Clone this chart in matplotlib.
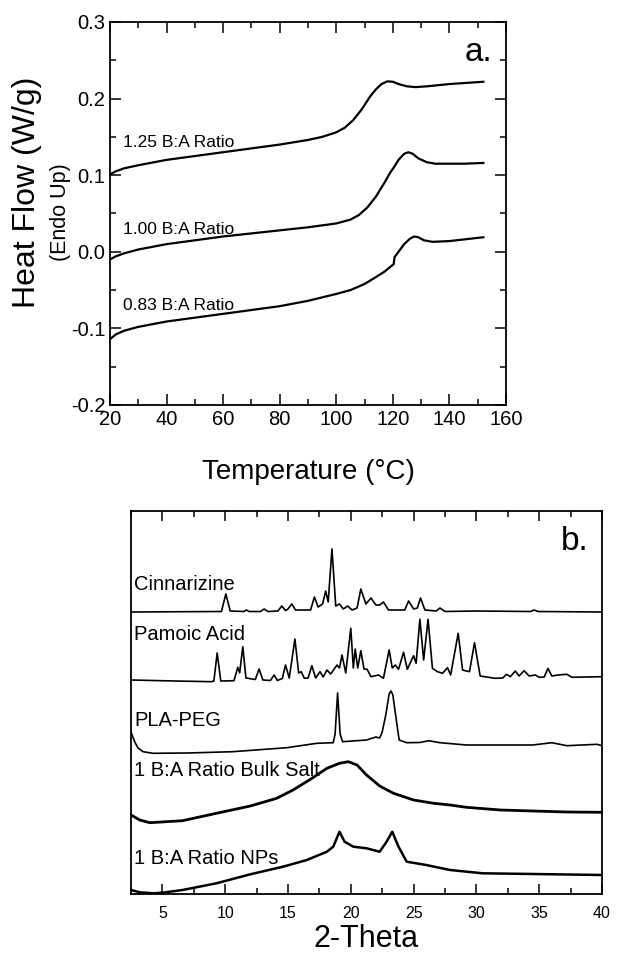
import matplotlib
matplotlib.use("Agg")
import matplotlib.pyplot as plt
from matplotlib.ticker import MultipleLocator

plt.rcParams['font.family'] = ['Liberation Sans', 'DejaVu Sans']

# --- DSC (panel a) ---
temp_125 = [20, 22, 25, 30, 40, 50, 60, 70, 80, 90, 95, 100, 103, 106, 109,
            112, 114, 116, 118, 120, 122, 125, 128, 132, 140, 152]
hf_125 = [0.101, 0.105, 0.109, 0.113, 0.120, 0.125, 0.130, 0.135, 0.140,
          0.146, 0.150, 0.156, 0.162, 0.172, 0.186, 0.203, 0.212, 0.219,
          0.2225, 0.222, 0.219, 0.216, 0.215, 0.216, 0.219, 0.222]

temp_100 = [20, 22, 25, 30, 40, 50, 60, 70, 80, 90, 100, 105, 108, 111, 114,
            117, 119, 120.5, 122, 124, 125.5, 127, 129, 132, 135, 145, 152]
hf_100 = [-0.010, -0.006, -0.002, 0.003, 0.010, 0.015, 0.020, 0.024, 0.028,
          0.032, 0.037, 0.042, 0.048, 0.058, 0.072, 0.090, 0.103, 0.111,
          0.120, 0.128, 0.130, 0.128, 0.122, 0.117, 0.115, 0.115, 0.116]

temp_083 = [20, 22, 25, 30, 40, 50, 60, 70, 80, 90, 100, 105, 110, 114, 117,
            119, 120.3, 120.6, 122, 124, 126, 127.5, 129, 131, 134, 140, 152]
hf_083 = [-0.114, -0.108, -0.103, -0.098, -0.091, -0.086, -0.081, -0.076,
          -0.071, -0.064, -0.055, -0.050, -0.042, -0.033, -0.026, -0.020,
          -0.016, -0.007, 0.000, 0.010, 0.017, 0.020, 0.019, 0.015, 0.013,
          0.014, 0.019]

dsc_labels = ["1.25 B:A Ratio", "1.00 B:A Ratio", "0.83 B:A Ratio"]
dsc_label_y = [0.143, 0.029, -0.070]

# --- XRD (panel b), (2-theta, intensity a.u.) ---
cinnarizine = [(2.5, 282), (9.7, 282.5), (10.05, 300), (10.4, 283),
               (11.5, 282.5), (11.7, 284), (11.9, 282.5), (12.8, 282.5),
               (13.1, 285), (13.4, 282.5), (14.2, 283), (14.5, 288),
               (14.8, 283.5), (15.0, 285), (15.3, 290), (15.6, 284),
               (16.8, 284), (17.1, 297), (17.4, 287), (17.75, 290),
               (18.0, 303), (18.2, 292), (18.5, 345), (18.8, 288),
               (19.1, 290), (19.4, 285), (19.75, 288), (20.1, 284),
               (20.5, 286), (20.8, 305), (21.2, 290), (21.6, 296),
               (22.0, 289), (22.3, 289), (22.6, 292), (23.0, 284),
               (24.3, 284), (24.6, 293), (25.0, 285), (25.3, 286),
               (25.55, 296), (25.9, 284), (26.8, 283), (27.1, 286),
               (27.5, 282.5), (30.0, 283), (34.3, 282.5), (34.6, 284),
               (34.9, 282.5), (40.0, 282)]

pamoic_acid = [(2.5, 214), (6.0, 213), (8.9, 212.3), (9.1, 213), (9.36, 241),
               (9.65, 213), (10.7, 213.3), (11.0, 226.7), (11.15, 221),
               (11.4, 247.3), (11.65, 216), (12.4, 214.5), (12.7, 225),
               (13.0, 214), (13.6, 213.5), (13.9, 219), (14.15, 213.5),
               (14.55, 215.5), (14.8, 229), (15.1, 216), (15.55, 255),
               (15.85, 221), (16.05, 222.3), (16.3, 215.7), (16.6, 216),
               (16.9, 228.3), (17.2, 216), (17.55, 222.3), (17.8, 217),
               (18.1, 224), (18.4, 220), (18.9, 229), (19.1, 226),
               (19.3, 239), (19.6, 221), (20.0, 265.7), (20.2, 226),
               (20.35, 245), (20.55, 226), (20.8, 243.3), (21.05, 225),
               (21.3, 224.7), (21.6, 217.3), (22.2, 219), (22.6, 215.7),
               (23.05, 244), (23.3, 226), (23.55, 229), (23.8, 224.7),
               (24.2, 241.7), (24.5, 224.7), (25.0, 238.3), (25.2, 230.7),
               (25.5, 274.7), (25.8, 234), (26.15, 274.7), (26.5, 225.7),
               (26.9, 222.3), (27.3, 220.7), (27.7, 226.3), (27.95, 219),
               (28.55, 260.7), (28.9, 224), (29.2, 223), (29.45, 222.3),
               (29.85, 251.3), (30.3, 218), (31.5, 215.7), (32.1, 216),
               (32.4, 219.7), (32.7, 217.3), (33.1, 223), (33.4, 218),
               (33.8, 223.3), (34.2, 218), (34.7, 219), (35.0, 216.7),
               (35.4, 217), (35.7, 225.7), (36.0, 218), (36.5, 219),
               (37.2, 219.7), (37.6, 216.7), (40.0, 217.3)]

pla_peg = [(2.5, 162), (2.8, 152), (3.06, 146), (3.46, 142.3), (4.26, 140.7),
           (7.0, 141), (10.6, 142.3), (14.9, 146.3), (17.3, 150.7),
           (18.6, 151.3), (18.75, 160), (18.95, 201), (19.15, 160),
           (19.35, 152.3), (21.25, 154), (22.0, 157), (22.3, 156),
           (22.5, 162), (22.8, 180), (23.05, 200), (23.2, 203),
           (23.35, 199), (23.6, 176), (23.85, 154), (24.45, 151.3),
           (25.5, 151.5), (26.2, 153.3), (27.1, 151.3), (29.2, 149),
           (34.5, 149), (36.0, 151.3), (37.2, 148.3), (39.6, 149.7),
           (40.0, 148.3)]

bulk_salt = [(2.5, 79), (3.2, 74), (4.0, 71.3), (6.6, 73.3), (9.3, 80.7),
             (12.0, 88), (14.1, 95.7), (15.4, 104), (16.7, 114),
             (18.1, 125.7), (19.1, 130.7), (19.8, 132.3), (20.5, 129),
             (21.25, 119), (22.3, 108), (23.4, 100.7), (25.0, 94),
             (26.6, 90.7), (27.9, 89), (29.2, 86.7), (31.9, 84), (34.5, 83),
             (37.2, 82), (40.0, 81.7)]

nps = [(2.5, 4), (3.2, 1.7), (4.3, 0.7), (5.0, 1.3), (6.6, 4), (9.3, 10.7),
       (12.0, 19.7), (14.6, 27.3), (16.5, 34), (18.1, 42.3), (18.6, 47.3),
       (19.1, 62.3), (19.5, 52.3), (20.2, 47.3), (21.25, 45.7),
       (22.3, 42.3), (22.85, 52.3), (23.3, 62.3), (23.8, 47.3),
       (24.45, 32.3), (26.0, 29), (27.9, 24), (30.5, 20.7), (34.5, 20),
       (40.0, 19)]

xrd_series = [cinnarizine, pamoic_acid, pla_peg, bulk_salt, nps]
xrd_names = ["Cinnarizine", "Pamoic Acid", "PLA-PEG",
             "1 B:A Ratio Bulk Salt", "1 B:A Ratio NPs"]
xrd_label_y = [310, 260, 173, 124, 35]
xrd_lw = [1.2, 1.2, 1.2, 2.0, 1.8]

fig = plt.figure(figsize=(6.32, 9.58), dpi=100)

# panel a
ax1 = fig.add_axes([110/632, 1-405/958, 396/632, 383/958])
for t, h in [(temp_125, hf_125), (temp_100, hf_100), (temp_083, hf_083)]:
    ax1.plot(t, h, color='black', lw=1.6, solid_joinstyle='round')
for lab, y in zip(dsc_labels, dsc_label_y):
    ax1.text(24.5, y, lab, fontsize=12.5, va='center', ha='left')
ax1.set_xlim(20, 160)
ax1.set_ylim(-0.2, 0.3)
ax1.xaxis.set_major_locator(MultipleLocator(20))
ax1.xaxis.set_minor_locator(MultipleLocator(10))
ax1.yaxis.set_major_locator(MultipleLocator(0.1))
ax1.yaxis.set_minor_locator(MultipleLocator(0.05))
ax1.set_yticks(ax1.get_yticks())
ax1.set_yticklabels(['%.1f' % v for v in ax1.get_yticks()])
ax1.set_ylim(-0.2, 0.3)
ax1.tick_params(which='both', direction='in', top=True, right=True,
                labelsize=14.5, width=1.1)
ax1.tick_params(which='major', length=8)
ax1.tick_params(which='minor', length=4)
ax1.set_xlabel("Temperature (°C)", fontsize=20, labelpad=22)
ax1.text(155, 0.26, "a.", fontsize=24, ha='right', va='center')
for s in ax1.spines.values():
    s.set_linewidth(1.3)
fig.text(0.043, 1-192/958, "Heat Flow (W/g)", rotation=90, fontsize=23,
         ha='center', va='center')
fig.text(0.095, 1-212/958, "(Endo Up)", rotation=90, fontsize=15.5,
         ha='center', va='center')

# panel b
ax2 = fig.add_axes([131/632, 1-894/958, 471/632, 383/958])
for data, lw in zip(xrd_series, xrd_lw):
    xs = [p[0] for p in data]
    ys = [p[1] for p in data]
    ax2.plot(xs, ys, color='black', lw=lw, solid_joinstyle='round')
for name, y in zip(xrd_names, xrd_label_y):
    ax2.text(2.75, y, name, fontsize=14.5, va='center', ha='left')
ax2.set_xlim(2.5, 40)
ax2.set_ylim(0, 383)
ax2.xaxis.set_major_locator(MultipleLocator(5))
ax2.xaxis.set_minor_locator(MultipleLocator(2.5))
ax2.set_yticks([])
ax2.tick_params(which='both', direction='in', top=True, labelsize=11.5,
                width=1.1, pad=9)
ax2.tick_params(which='major', length=7)
ax2.tick_params(which='minor', length=4)
ax2.set_xlabel("2-Theta", fontsize=22, labelpad=2)
ax2.text(38.9, 352, "b.", fontsize=24, ha='right', va='center')
for s in ax2.spines.values():
    s.set_linewidth(1.3)

fig.savefig("out.png", dpi=100)
